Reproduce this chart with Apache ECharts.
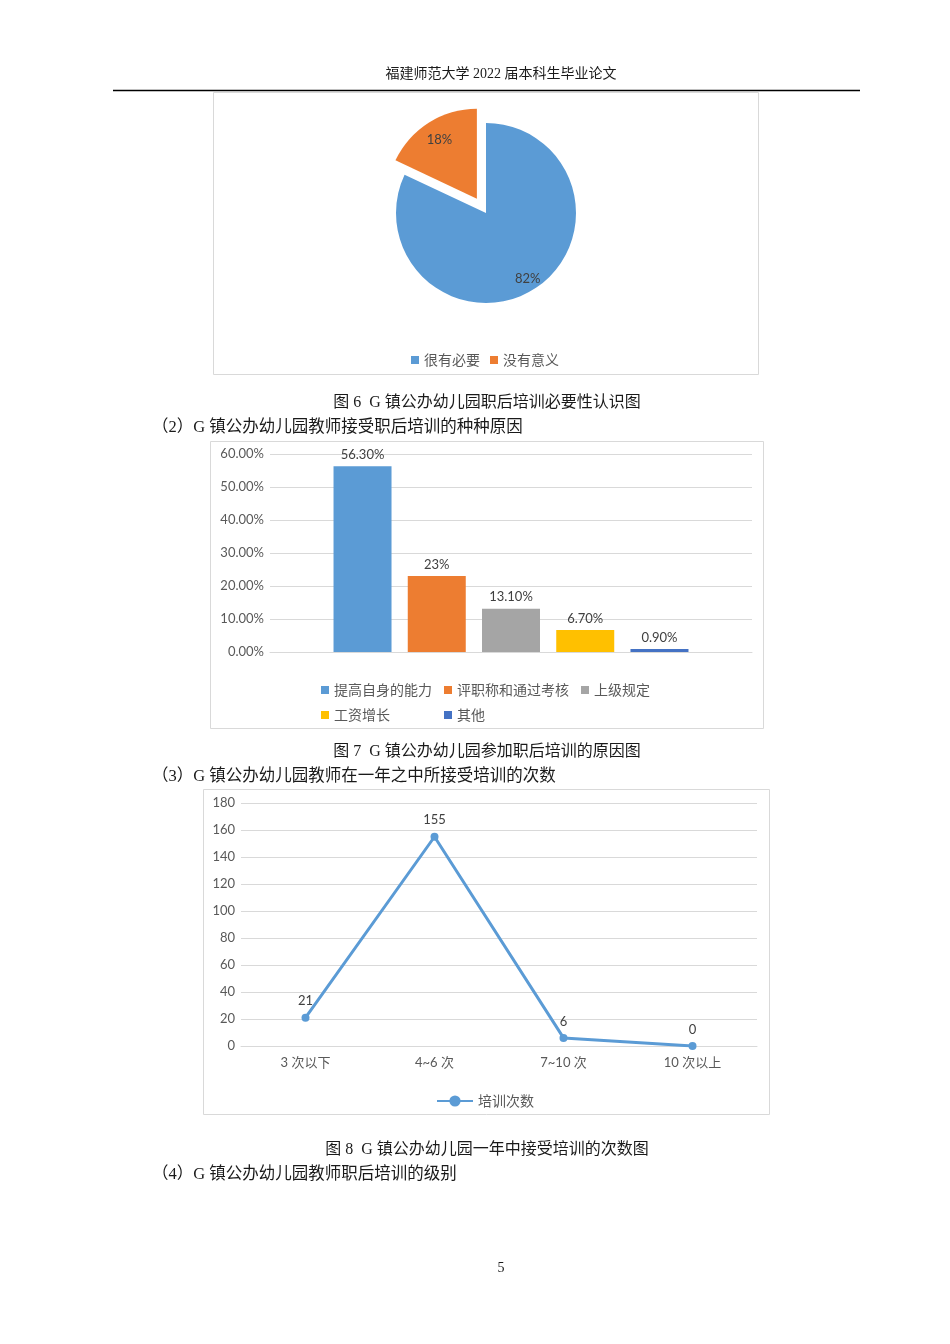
<!DOCTYPE html>
<html>
<head>
<meta charset="utf-8">
<script src="https://cdn.jsdelivr.net/npm/echarts@6/dist/echarts.min.js"></script>
<style>
html,body{margin:0;padding:0;background:#fff;}
#c{width:950px;height:1344px;}
</style>
</head>
<body>
<div id="c"></div>
<script>
// ---- Data ----
var pieNames = ['很有必要', '没有意义'];
var pieValues = [82, 18];
var pieColors = ['#5B9BD5', '#ED7D31'];

var barNames = ['提高自身的能力', '评职称和通过考核', '上级规定', '工资增长', '其他'];
var barValues = [56.3, 23, 13.1, 6.7, 0.9];
var barLabels = ['56.30%', '23%', '13.10%', '6.70%', '0.90%'];
var barColors = ['#5B9BD5', '#ED7D31', '#A5A5A5', '#FFC000', '#4472C4'];

var lineCategories = ['3 次以下', '4~6 次', '7~10 次', '10 次以上'];
var lineValues = [21, 155, 6, 0];
var lineName = '培训次数';

var pageTexts = {
  header: '福建师范大学 2022 届本科生毕业论文',
  cap6: '图 6  G 镇公办幼儿园职后培训必要性认识图',
  sub2: '（2）G 镇公办幼儿园教师接受职后培训的种种原因',
  cap7: '图 7  G 镇公办幼儿园参加职后培训的原因图',
  sub3: '（3）G 镇公办幼儿园教师在一年之中所接受培训的次数',
  cap8: '图 8  G 镇公办幼儿园一年中接受培训的次数图',
  sub4: '（4）G 镇公办幼儿园教师职后培训的级别',
  page: '5'
};

// ---- Chart ----
var FONT = 'Lato, "Noto Sans CJK SC", sans-serif';
var SERIF = '"Liberation Serif", "Noto Sans CJK SC", serif';
var chart = echarts.init(document.getElementById('c'), null, {renderer: 'canvas'});

function txt(t, x, y, align, size) {
  return {type: 'text', silent: true, style: {text: t, x: x, y: y, textAlign: align,
    textVerticalAlign: 'middle', font: size + 'px ' + SERIF, fill: '#1a1a1a'}};
}
function box(x1, y1, x2, y2) {
  return {type: 'rect', silent: true, z: -1, shape: {x: x1 + 0.5, y: y1 + 0.5, width: x2 - x1, height: y2 - y1},
    style: {fill: 'none', stroke: '#d9d9d9', lineWidth: 1}};
}

var series = [];
series.push({
  type: 'pie', center: [486, 213], radius: 90, startAngle: 90, clockwise: true,
  selectedMode: 'single', selectedOffset: 17, silent: true, emphasis: {disabled: true},
  label: {show: false}, labelLine: {show: false},
  data: pieNames.map(function (n, i) {
    return {name: n, value: pieValues[i], selected: i === 1, itemStyle: {color: pieColors[i]}};
  })
});
series.push({
  type: 'pie', center: [486, 213], radius: [60, 90], startAngle: 90, clockwise: true,
  selectedMode: 'single', selectedOffset: 9, silent: true, emphasis: {disabled: true},
  legendHoverLink: false,
  label: {show: true, position: 'inside', formatter: '{c}%', color: '#404040', fontSize: 13, fontFamily: FONT},
  labelLine: {show: false},
  data: pieNames.map(function (n, i) {
    return {name: n + ' ', value: pieValues[i], selected: i === 1, itemStyle: {color: 'rgba(0,0,0,0)'}};
  })
});
barNames.forEach(function (n, i) {
  series.push({
    type: 'bar', name: n, xAxisIndex: 0, yAxisIndex: 0, data: [barValues[i]],
    barWidth: 58, barGap: '28%', itemStyle: {color: barColors[i]},
    label: {show: true, position: 'top', distance: 5, formatter: barLabels[i], color: '#404040', fontSize: 13, fontFamily: FONT},
    silent: true
  });
});
series.push({
  type: 'line', name: lineName, xAxisIndex: 1, yAxisIndex: 1, data: lineValues,
  symbol: 'circle', symbolSize: 8, lineStyle: {width: 3, color: '#5B9BD5'},
  itemStyle: {color: '#5B9BD5'},
  label: {show: true, position: 'top', distance: 6, color: '#404040', fontSize: 13, fontFamily: FONT},
  silent: true
});

var axisLabelStyle = {color: '#595959', fontSize: 13, fontFamily: FONT};
var legendText = {color: '#595959', fontSize: 14, fontFamily: FONT};
var option = {
  backgroundColor: '#fff',
  animation: false,
  textStyle: {fontFamily: FONT},
  grid: [
    {left: 270, right: 198, top: 454, bottom: 692},
    {left: 241, right: 193, top: 803, bottom: 298}
  ],
  xAxis: [
    {gridIndex: 0, type: 'category', data: [''], axisTick: {show: false}, axisLabel: {show: false},
      axisLine: {lineStyle: {color: '#d9d9d9'}}},
    {gridIndex: 1, type: 'category', data: lineCategories, axisTick: {show: false},
      axisLine: {lineStyle: {color: '#d9d9d9'}}, axisLabel: Object.assign({margin: 10}, axisLabelStyle)}
  ],
  yAxis: [
    {gridIndex: 0, type: 'value', min: 0, max: 60, interval: 10, axisLine: {show: false}, axisTick: {show: false},
      splitLine: {lineStyle: {color: '#d9d9d9'}},
      axisLabel: Object.assign({margin: 6, formatter: function (v) { return v.toFixed(2) + '%'; }}, axisLabelStyle)},
    {gridIndex: 1, type: 'value', min: 0, max: 180, interval: 20, axisLine: {show: false}, axisTick: {show: false},
      splitLine: {lineStyle: {color: '#d9d9d9'}},
      axisLabel: Object.assign({margin: 6}, axisLabelStyle)}
  ],
  legend: [
    {data: pieNames, left: 411, top: 353, padding: 0, itemGap: 10, itemWidth: 8, itemHeight: 8, icon: 'rect',
      selectedMode: false, textStyle: legendText},
    {data: barNames.slice(0, 3), left: 321, top: 683, padding: 0, itemGap: 12, itemWidth: 8, itemHeight: 8, icon: 'rect',
      selectedMode: false, textStyle: legendText},
    {data: barNames.slice(3), left: 321, top: 708, padding: 0, itemGap: 54, itemWidth: 8, itemHeight: 8, icon: 'rect',
      selectedMode: false, textStyle: legendText},
    {data: [lineName], left: 436, top: 1094, padding: 0, itemWidth: 36, itemHeight: 14,
      selectedMode: false, textStyle: legendText}
  ],
  series: series,
  graphic: [
    {type: 'line', silent: true, shape: {x1: 113, y1: 90.5, x2: 860, y2: 90.5}, style: {stroke: '#000', lineWidth: 1.5}},
    box(213, 92, 758, 374),
    box(210, 441, 763, 728),
    box(203, 789, 769, 1114),
    txt(pageTexts.header, 501, 74, 'center', 14),
    txt(pageTexts.cap6, 487, 403, 'center', 16),
    txt(pageTexts.sub2, 152, 428, 'left', 16.5),
    txt(pageTexts.cap7, 487, 752, 'center', 16),
    txt(pageTexts.sub3, 152, 777, 'left', 16.5),
    txt(pageTexts.cap8, 487, 1150, 'center', 16),
    txt(pageTexts.sub4, 152, 1175, 'left', 16.5),
    txt(pageTexts.page, 501, 1268, 'center', 14)
  ]
};
chart.setOption(option);
</script>
</body>
</html>
